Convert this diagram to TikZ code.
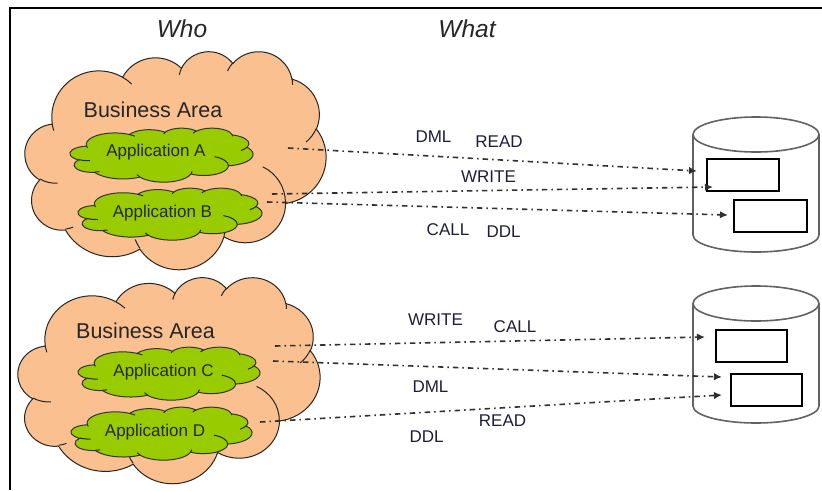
\documentclass[tikz,border=0pt]{standalone}
\usepackage{fontspec}
\setmainfont{Liberation Sans}
\usetikzlibrary{arrows.meta}

\definecolor{areaorange}{HTML}{FAC090}
\definecolor{appgreen}{HTML}{99CC00}
\definecolor{linkgray}{HTML}{303030}
\definecolor{labelnavy}{HTML}{1E1E3C}
\definecolor{drumgray}{HTML}{626262}

\makeatletter
% Cloud outline built from elliptic arcs on a 43.2 x 43.2 grid.
% Angles are given as direction angles and turned into the
% parametric angles that TikZ's arc expects.
\gdef\cloudouter{}
\gdef\cloudinner{}
\newcommand\cloudarc[4]{%
  \pgfmathsetmacro\cl@ts{atan2(#1*sin(#3),#2*cos(#3))}%
  \pgfmathsetmacro\cl@te{atan2(#1*sin(#3+#4),#2*cos(#3+#4))}%
  \pgfmathsetmacro\cl@dt{mod(\cl@te-(\cl@ts)+720,360)}%
  \xdef\cloudouter{\cloudouter arc[x radius=#1,y radius=#2,start angle=\cl@ts,delta angle=\cl@dt]}}
\newcommand\cloudcrease[6]{%
  \pgfmathsetmacro\cl@ts{atan2(#3*sin(#5),#4*cos(#5))}%
  \pgfmathsetmacro\cl@te{atan2(#3*sin(#5+#6),#4*cos(#5+#6))}%
  \pgfmathsetmacro\cl@dt{mod(\cl@te-(\cl@ts)+720,360)}%
  \xdef\cloudinner{\cloudinner (#1,#2) arc[x radius=#3,y radius=#4,start angle=\cl@ts,delta angle=\cl@dt]}}

\cloudarc{6.753}{9.190}{-190.4875}{123.7805}
\cloudarc{5.333}{7.267}{-144.1024}{89.9452}
\cloudarc{4.365}{5.945}{-145.8079}{99.7230}
\cloudarc{4.857}{6.595}{-130.9861}{117.2417}
\cloudarc{5.333}{7.273}{-78.7089}{109.0269}
\cloudarc{6.775}{9.220}{-46.2673}{130.2690}
\cloudarc{5.785}{7.867}{0.6250}{114.0333}
\cloudarc{6.752}{9.215}{22.4516}{115.1726}
\cloudarc{7.720}{10.543}{66.2426}{75.7110}
\cloudarc{4.360}{5.918}{-274.9421}{146.7356}
\cloudarc{4.345}{5.945}{-246.8285}{152.5189}

\cloudcrease{4.693}{26.177}{4.345}{5.945}{86.7420}{26.4295}
\cloudcrease{6.928}{34.899}{4.360}{5.918}{73.6105}{11.4475}
\cloudcrease{16.478}{39.090}{6.752}{9.215}{137.6242}{14.0811}
\cloudcrease{28.827}{34.751}{6.752}{9.215}{6.4533}{15.9984}
\cloudcrease{34.129}{22.954}{5.785}{7.867}{-70.2924}{70.9174}
\cloudcrease{41.798}{15.354}{5.333}{7.273}{30.3180}{27.7515}
\cloudcrease{38.324}{5.426}{4.857}{6.595}{-13.7443}{14.8589}
\cloudcrease{29.078}{3.952}{4.857}{6.595}{-149.1815}{18.1954}
\cloudcrease{22.141}{4.720}{4.365}{5.945}{-163.4943}{17.6864}
\cloudcrease{14.000}{5.192}{6.753}{9.190}{-66.7070}{12.3194}
\cloudcrease{4.127}{15.789}{6.753}{9.190}{157.6544}{11.8539}

% \drawcloud{left}{top}{width}{height}{outline style}{crease style}
\newcommand\drawcloud[6]{%
  \pgfmathsetmacro\cl@sx{#3/43.2}%
  \pgfmathsetmacro\cl@sy{#4/43.2}%
  \begin{scope}[shift={(#1pt,-#2pt)},x=\cl@sx pt,y=-\cl@sy pt]
    \expandafter\cl@outline\expandafter{\cloudouter}{#5}%
    \expandafter\cl@creases\expandafter{\cloudinner}{#6}%
  \end{scope}}
\def\cl@outline#1#2{\path[#2] (3.9,14.37) #1 -- cycle;}
\def\cl@creases#1#2{\path[#2] #1;}
\makeatother

\tikzset{
  areacloud/.style={fill=areaorange,draw=black!85,line width=1pt},
  appcloud/.style={fill=appgreen,draw=black!80,line width=1pt},
  crease/.style={draw=black!85,line width=1pt},
  heading/.style={font=\fontsize{24.5}{29}\selectfont\itshape,text=black!85,inner sep=0pt,anchor=base},
  areatitle/.style={font=\fontsize{21.5}{26}\selectfont,text=black!85,inner sep=0pt,anchor=base},
  apptitle/.style={font=\fontsize{17}{20}\selectfont,text=black!85,inner sep=0pt,anchor=base},
  verb/.style={font=\fontsize{17}{20}\selectfont,text=labelnavy,inner sep=0pt,anchor=base},
  drum/.style={draw=drumgray,line width=1.6pt,fill=white},
  tablebox/.style={draw=black,line width=1.2pt,fill=white,inner sep=0pt,minimum height=32pt},
  link/.style={draw=linkgray,line width=1.6pt,dash pattern=on 5.5pt off 4pt on 1.5pt off 4pt,
               -{Latex[length=8pt,width=7.5pt]}},
}

\begin{document}
\begin{tikzpicture}[x=1pt,y=-1pt]
\useasboundingbox (0,0) rectangle (822,490);
\fill[white] (0,0) rectangle (822,490);

% frame
\draw[line width=1.3pt] (10,490) -- (10,8) -- (822,8);

% headings
\node[heading] (who) at (182,37) {Who};
\node[heading] (what) at (467,37) {What};

% business areas and their applications
\drawcloud{25}{51}{301}{218}{areacloud}{crease}
\drawcloud{18}{277}{302}{206}{areacloud}{crease}
\drawcloud{70}{128}{183}{54}{appcloud}{crease}
\drawcloud{78}{188}{184}{52}{appcloud}{crease}
\drawcloud{78}{347}{182}{53}{appcloud}{crease}
\drawcloud{71}{407}{181}{53}{appcloud}{crease}

\node[areatitle] (area1) at (153,117) {Business Area};
\node[areatitle] (area2) at (145.5,338) {Business Area};
\node[apptitle] (appA) at (156,156) {Application A};
\node[apptitle] (appB) at (162.5,217) {Application B};
\node[apptitle] (appC) at (163.5,376) {Application C};
\node[apptitle] (appD) at (155,436) {Application D};

% databases
\path[drum] (693,134.5) -- (693,235) arc[start angle=180,end angle=0,x radius=63,y radius=17] -- (819,134.5);
\draw[drum] (756,134.5) ellipse[x radius=63,y radius=17.5];
\node[tablebox,minimum width=72pt] (tab1) at (743,175) {};
\node[tablebox,minimum width=73pt] (tab2) at (770.5,216) {};

\path[drum] (693,303.5) -- (693,406) arc[start angle=180,end angle=0,x radius=63,y radius=17] -- (819,303.5);
\draw[drum] (756,303.5) ellipse[x radius=63,y radius=17.5];
\node[tablebox,minimum width=71pt] (tab3) at (751.5,346) {};
\node[tablebox,minimum width=71pt] (tab4) at (766.5,390) {};

% access links
\coordinate (s1) at (288,148);  \coordinate (e1) at (697,171);
\coordinate (s2) at (272,194);  \coordinate (e2) at (713,187);
\coordinate (s3) at (267,202);  \coordinate (e3) at (728,215);
\coordinate (s4) at (275,346);  \coordinate (e4) at (705,337);
\coordinate (s5) at (273,361);  \coordinate (e5) at (722,377);
\coordinate (s6) at (260,422);  \coordinate (e6) at (722,395);
\draw[link] (s1) -- (e1);
\draw[link] (s2) -- (e2);
\draw[link] (s3) -- (e3);
\draw[link] (s4) -- (e4);
\draw[link] (s5) -- (e5);
\draw[link] (s6) -- (e6);

% operation labels
\node[verb] (dml1) at (433.5,142) {DML};
\node[verb] (read1) at (499,147) {READ};
\node[verb] (write1) at (488.5,182) {WRITE};
\node[verb] (call1) at (448,235) {CALL};
\node[verb] (ddl1) at (503.5,237) {DDL};

\node[verb] (write2) at (435.5,325) {WRITE};
\node[verb] (call2) at (515,332) {CALL};
\node[verb] (dml2) at (430.5,392) {DML};
\node[verb] (read2) at (502.5,426) {READ};
\node[verb] (ddl2) at (426.5,442) {DDL};
\end{tikzpicture}
\end{document}
